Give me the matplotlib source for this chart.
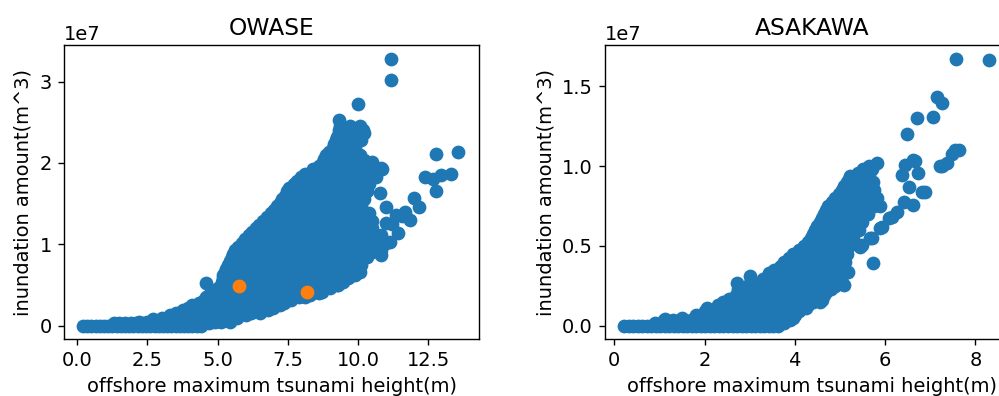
import matplotlib
matplotlib.use("Agg")
import matplotlib.pyplot as plt
import numpy as np

plt.rcParams["font.size"] = 11.2

# inundation volumes are given in units of 1e7 m^3
UNIT = 1e7

# ---- OWASE: scenario results, grouped by volume level (y, [heights]) ----
owase_rows = [
    (0.00, [0.2, 0.35, 0.5, 0.65, 0.8, 0.95, 1.1, 1.25, 1.4, 1.55, 1.7, 1.85, 2.0, 2.15,
            2.3, 2.45, 2.6, 2.75, 2.9, 3.05, 3.2, 3.35, 3.5, 3.65, 3.8, 3.95, 4.1, 4.25, 4.4]),
    (0.03, [1.3, 1.5, 1.7, 1.9, 2.1, 2.3, 2.5, 2.7, 2.9, 4.7]),
    (0.05, [2.2, 2.5, 2.8, 3.1, 3.4, 3.7, 4.0, 4.3, 4.6, 4.9, 5.1, 5.45]),
    (0.10, [3.0, 3.3, 3.6, 3.9, 4.2, 4.5, 4.8, 5.1, 5.4, 5.7]),
    (0.16, [3.5, 3.8, 4.1, 4.4, 4.7, 5.0, 5.3, 5.6, 5.9, 6.2, 6.5]),
    (0.22, [3.95, 4.25, 4.55, 4.85, 5.15, 5.45, 5.75, 6.05, 6.35, 6.65, 6.95]),
    (0.28, [4.35, 4.65, 4.95, 5.25, 5.55, 5.85, 6.15, 6.45, 6.75, 7.05, 7.35]),
    (0.35, [4.6, 4.9, 5.2, 5.5, 5.8, 6.1, 6.4, 6.7, 7.0, 7.3, 7.6, 7.9, 8.1]),
    (0.42, [4.85, 5.15, 5.45, 5.75, 6.05, 6.35, 6.65, 6.95, 7.25, 7.55, 7.85, 8.15, 8.45, 8.7]),
    (0.50, [5.15, 5.4, 5.7, 6.0, 6.3, 6.6, 6.9, 7.2, 7.5, 7.8, 8.1, 8.4, 8.7, 9.0, 9.25]),
    (0.58, [5.2, 5.5, 5.8, 6.1, 6.4, 6.7, 7.0, 7.3, 7.6, 7.9, 8.2, 8.5, 8.8, 9.1, 9.4, 9.65]),
    (0.66, [5.25, 5.55, 5.85, 6.15, 6.45, 6.75, 7.05, 7.35, 7.65, 7.95, 8.25, 8.55, 8.85,
            9.15, 9.45, 9.75, 10.05]),
    (0.75, [5.35, 5.65, 5.95, 6.25, 6.55, 6.85, 7.15, 7.45, 7.75, 8.05, 8.35, 8.65, 8.95,
            9.25, 9.55, 9.85, 10.1]),
    (0.84, [5.5, 5.8, 6.1, 6.4, 6.7, 7.0, 7.3, 7.6, 7.9, 8.2, 8.5, 8.8, 9.1, 9.4, 9.7,
            10.0, 10.3]),
    (0.93, [5.6, 5.9, 6.2, 6.5, 6.8, 7.1, 7.4, 7.7, 8.0, 8.3, 8.6, 8.9, 9.2, 9.5, 9.8,
            10.1, 10.4, 10.8]),
    (1.02, [5.85, 6.15, 6.45, 6.75, 7.05, 7.35, 7.65, 7.95, 8.25, 8.55, 8.85, 9.15, 9.45,
            9.75, 10.05, 10.35, 10.65, 11.0]),
    (1.11, [6.1, 6.4, 6.7, 7.0, 7.3, 7.6, 7.9, 8.2, 8.5, 8.8, 9.1, 9.4, 9.7, 10.0, 10.3,
            10.6, 10.8]),
    (1.20, [6.35, 6.65, 6.95, 7.25, 7.55, 7.85, 8.15, 8.45, 8.75, 9.05, 9.35, 9.65, 9.95,
            10.25, 10.5]),
    (1.29, [6.6, 6.9, 7.2, 7.5, 7.8, 8.1, 8.4, 8.7, 9.0, 9.3, 9.6, 9.9, 10.2, 10.5]),
    (1.38, [6.9, 7.2, 7.5, 7.8, 8.1, 8.4, 8.7, 9.0, 9.3, 9.6, 9.9, 10.2, 10.4]),
    (1.47, [7.1, 7.4, 7.7, 8.0, 8.3, 8.6, 8.9, 9.2, 9.5, 9.8, 10.1]),
    (1.56, [7.3, 7.6, 7.9, 8.2, 8.5, 8.8, 9.1, 9.4, 9.7, 10.0, 10.2]),
    (1.65, [7.45, 7.75, 8.05, 8.35, 8.65, 8.95, 9.25, 9.55, 9.85, 10.15, 10.3]),
    (1.74, [7.7, 8.0, 8.3, 8.6, 8.9, 9.2, 9.5, 9.8, 10.1, 10.4]),
    (1.83, [7.95, 8.25, 8.55, 8.85, 9.15, 9.45, 9.75, 10.05, 10.35, 10.65]),
    (1.92, [8.4, 8.7, 9.0, 9.3, 9.6, 9.9, 10.2, 10.5, 10.8]),
    (2.01, [8.75, 9.05, 9.35, 9.65, 9.95, 10.25, 10.5]),
    (2.10, [8.85, 9.15, 9.45, 9.75, 10.05]),
    (2.19, [9.1, 9.4, 9.7, 9.9]),
    (2.28, [9.2, 9.5, 9.8, 10.1]),
    (2.37, [9.3, 9.6, 9.9, 10.2]),
    (2.46, [9.35, 9.7, 10.05]),
]

# scenarios lying on the rim of the cloud
owase_edge_x = [2.7, 3.3, 3.75, 4.1, 4.5, 4.7,
                5.0, 5.15, 5.2, 5.3, 5.45, 5.55, 5.72, 5.98, 6.22, 6.48, 6.75, 7.0,
                7.2, 7.38, 7.55, 7.82, 8.1, 8.6, 8.8, 8.97, 9.15, 9.25, 9.32,
                5.4, 6.0, 6.8, 7.2, 7.6, 8.3, 9.0, 9.45, 9.9]
owase_edge_y = [0.08, 0.13, 0.19, 0.25, 0.31, 0.38,
                0.46, 0.54, 0.62, 0.70, 0.80, 0.88, 0.97, 1.06, 1.15, 1.24, 1.33, 1.42,
                1.51, 1.60, 1.69, 1.78, 1.87, 1.96, 2.05, 2.14, 2.23, 2.32, 2.41,
                0.08, 0.13, 0.19, 0.25, 0.31, 0.38, 0.46, 0.54, 0.62]

# isolated scenarios outside the main cloud
owase_extra_x = [4.58, 11.18, 11.18, 9.99, 9.30, 10.17, 12.78, 13.55, 12.36, 12.65,
                 12.95, 13.31, 12.78, 12.0, 12.18, 11.65, 11.83, 11.35, 11.0, 10.76,
                 10.82, 11.41, 11.12, 10.82, 11.0, 10.84, 10.2, 11.2, 11.55, 10.5,
                 10.05, 9.69, 9.28, 8.6]
owase_extra_y = [0.52, 3.28, 3.02, 2.72, 2.53, 2.41, 2.11, 2.13, 1.83, 1.80,
                 1.85, 1.87, 1.65, 1.57, 1.46, 1.40, 1.30, 1.36, 1.46, 1.63,
                 1.94, 1.14, 1.03, 0.87, 1.26, 1.92, 2.04, 1.25, 1.35, 0.90,
                 0.77, 0.60, 0.50, 0.40]

# highlighted (observed) events
owase_marked_x = [5.76, 8.16]
owase_marked_y = [0.49, 0.41]

# ---- ASAKAWA ----
asakawa_rows = [
    (0.000, [0.22, 0.32, 0.42, 0.52, 0.62, 0.72, 0.82, 0.92, 1.02, 1.12, 1.22, 1.32,
             1.42, 1.52, 1.62, 1.72, 1.82, 1.92, 2.02, 2.12, 2.22, 2.32, 2.42, 2.52,
             2.62, 2.72, 2.82, 2.92, 3.02, 3.12, 3.22, 3.32, 3.42, 3.52, 3.62]),
    (0.018, [0.9, 1.05, 1.2, 1.35, 1.5, 1.65, 1.8, 1.95, 2.1, 2.25, 2.4, 2.55, 2.7,
             2.85, 3.0, 3.15, 3.3, 3.45, 3.6, 3.75]),
    (0.035, [1.1, 1.3, 1.5, 1.7, 1.9, 2.1, 2.3, 2.5, 2.7, 2.9, 3.1, 3.3, 3.5, 3.7, 3.9]),
    (0.070, [1.8, 2.0, 2.2, 2.4, 2.6, 2.8, 3.0, 3.2, 3.4, 3.6, 3.8, 4.0]),
    (0.110, [2.05, 2.3, 2.5, 2.7, 2.9, 3.1, 3.3, 3.5, 3.7, 3.9, 4.1, 4.25]),
    (0.150, [2.4, 2.6, 2.8, 3.0, 3.2, 3.4, 3.6, 3.8, 4.0, 4.2, 4.4, 4.55]),
    (0.190, [2.7, 2.9, 3.1, 3.3, 3.5, 3.7, 3.9, 4.1, 4.3, 4.5, 4.65]),
    (0.230, [2.75, 3.0, 3.2, 3.4, 3.6, 3.8, 4.0, 4.2, 4.4, 4.6, 4.8]),
    (0.270, [3.0, 3.2, 3.4, 3.6, 3.8, 4.0, 4.2, 4.4, 4.6, 4.8, 5.0]),
    (0.310, [3.0, 3.4, 3.6, 3.8, 4.0, 4.2, 4.4, 4.6, 4.8, 5.05]),
    (0.350, [3.55, 3.75, 3.95, 4.15, 4.35, 4.55, 4.75, 4.95, 5.1]),
    (0.400, [3.75, 3.95, 4.15, 4.35, 4.55, 4.75, 4.95, 5.12]),
    (0.450, [3.97, 4.15, 4.35, 4.55, 4.75, 4.95, 5.15]),
    (0.500, [4.2, 4.4, 4.6, 4.8, 5.0, 5.2]),
    (0.550, [4.35, 4.55, 4.75, 4.95, 5.15, 5.3]),
    (0.600, [4.45, 4.65, 4.85, 5.05, 5.25, 5.42]),
    (0.650, [4.55, 4.75, 4.95, 5.15, 5.35, 5.5]),
    (0.700, [4.65, 4.85, 5.05, 5.25, 5.45, 5.62]),
    (0.750, [4.75, 4.95, 5.15, 5.35, 5.55, 5.75, 5.89]),
    (0.800, [4.9, 5.1, 5.3, 5.5, 5.7, 5.82]),
    (0.850, [5.04, 5.24, 5.44, 5.6, 5.75]),
    (0.900, [5.15, 5.35, 5.55, 5.74]),
    (0.940, [5.23, 5.45, 5.65]),
    (0.980, [5.52, 5.7]),
    (1.020, [5.82]),
]

asakawa_edge_x = [1.5, 2.0, 2.3, 2.55, 2.85, 3.1, 3.3, 3.5, 3.7, 3.88, 4.1, 4.3, 4.4,
                  4.5, 4.6, 4.7, 4.82, 4.97, 5.1, 5.2, 5.4, 5.65,
                  3.95, 4.1, 4.3, 4.55, 4.7, 4.9]
asakawa_edge_y = [0.05, 0.09, 0.13, 0.17, 0.21, 0.25, 0.29, 0.33, 0.375, 0.425, 0.475,
                  0.525, 0.575, 0.625, 0.675, 0.725, 0.775, 0.825, 0.875, 0.92, 0.96,
                  1.0,
                  0.05, 0.09, 0.13, 0.17, 0.21, 0.25]

asakawa_extra_x = [5.45, 5.49, 5.67, 5.71, 5.93, 5.89, 6.08, 6.15, 6.26, 6.41,
                   6.63, 6.52, 6.82, 6.89, 6.37, 6.74, 6.45, 6.63, 6.67, 5.74,
                   7.26, 7.22, 7.37, 7.48, 7.55, 7.63,
                   6.48, 6.70, 7.06, 7.15, 7.26, 7.57, 8.31,
                   4.73, 4.36, 3.67, 3.42, 2.73, 1.12, 1.46,
                   5.0, 4.6, 5.08, 5.19]
asakawa_extra_y = [0.495, 0.506, 0.548, 0.548, 0.620, 0.610, 0.673, 0.683, 0.714, 0.777,
                   0.756, 0.871, 0.840, 0.840, 0.944, 0.955, 1.007, 1.038, 1.034, 0.393,
                   1.000, 1.000, 1.020, 1.076, 1.100, 1.100,
                   1.200, 1.300, 1.306, 1.435, 1.395, 1.670, 1.665,
                   0.750, 0.526, 0.370, 0.328, 0.265, 0.040, 0.035,
                   0.266, 0.160, 0.255, 0.338]

xlabel = "offshore maximum tsunami height(m)"
ylabel = "inundation amount(m^3)"
MARKER = 48


def flatten(rows, *pairs):
    xs = [x for y, row in rows for x in row]
    ys = [y for y, row in rows for _ in row]
    for px, py in pairs:
        xs += px
        ys += py
    return np.array(xs), np.array(ys) * UNIT


fig = plt.figure(figsize=(7.992, 3.168), dpi=125)

# OWASE
ax1 = fig.add_axes([0.0641, 0.1439, 0.4154, 0.7424])
ox, oy = flatten(owase_rows, (owase_edge_x, owase_edge_y), (owase_extra_x, owase_extra_y))
ax1.scatter(ox, oy, s=MARKER)
ax1.scatter(owase_marked_x, np.array(owase_marked_y) * UNIT, s=MARKER)
ax1.set_xlim(-0.47, 14.3)
ax1.set_ylim(-0.164 * UNIT, 3.45 * UNIT)
ax1.set_xticks([0, 2.5, 5, 7.5, 10, 12.5])
ax1.set_yticks([0, 1 * UNIT, 2 * UNIT, 3 * UNIT])
ax1.set_title("OWASE")
ax1.set_xlabel(xlabel)
ax1.set_ylabel(ylabel)

# ASAKAWA
ax2 = fig.add_axes([0.6056, 0.1439, 0.4154, 0.7424])
ax, ay = flatten(asakawa_rows, (asakawa_edge_x, asakawa_edge_y),
                 (asakawa_extra_x, asakawa_extra_y))
ax2.scatter(ax, ay, s=MARKER)
ax2.set_xlim(-0.206, 8.99)
ax2.set_ylim(-0.083 * UNIT, 1.759 * UNIT)
ax2.set_xticks([0, 2, 4, 6, 8])
ax2.set_yticks([0, 0.5 * UNIT, 1.0 * UNIT, 1.5 * UNIT])
ax2.set_title("ASAKAWA")
ax2.set_xlabel(xlabel)
ax2.set_ylabel(ylabel)

fig.savefig("out.png", dpi=125)
